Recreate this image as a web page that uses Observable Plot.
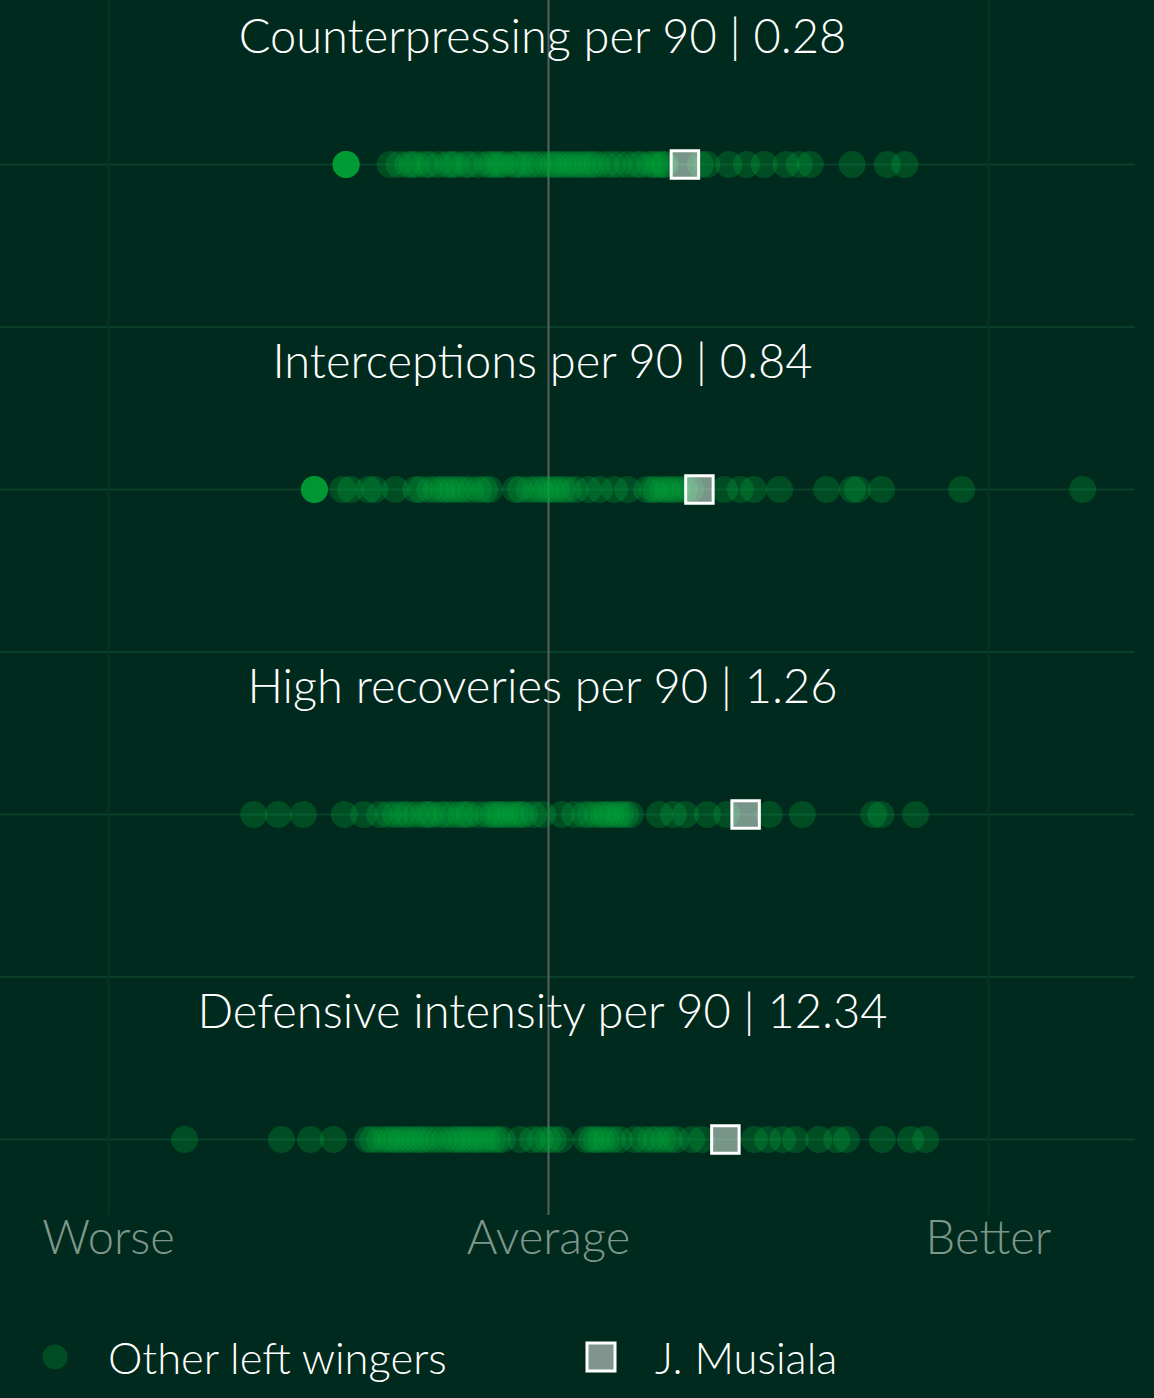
<!DOCTYPE html>
<html>
<head>
<meta charset="utf-8">
<script src="https://cdn.jsdelivr.net/npm/d3@7"></script>
<script src="https://cdn.jsdelivr.net/npm/@observablehq/plot@0.6"></script>
<style>
  html, body { margin: 0; padding: 0; background: #002a1d; }
  #chart { width: 1154px; }
  .legend { position: relative; width: 1154px; height: 98px; font-family: Lato, "Noto Sans", sans-serif; font-weight: 300; color: #fff; font-size: 43.5px; }
  .legend .sw { position: absolute; top: 57px; transform: translate(-50%, -50%); }
  .legend .lab { position: absolute; top: 58px; transform: translateY(-50%); line-height: 1; white-space: nowrap; }
</style>
</head>
<body>
<div id="chart"></div>
<div class="legend" id="legend"></div>
<script>
// Metric names and J. Musiala's raw values
const metrics = ["Counterpressing per 90", "Interceptions per 90", "High recoveries per 90", "Defensive intensity per 90"];
const musialaValues = [0.28, 0.84, 1.26, 12.34];
// Relative scores (Worse = -100, Average = 0, Better = 100)
const musialaScores = [31, 34.3, 44.8, 40.2];

const counterpressing = [-46, -46, -46, -46, -46, -46, -46, -36, -34, -32, -31, -30, -28, -27, -25, -23, -22, -21, -19, -18, -16, -14, -13, -12, -11, -10, -8, -7, -6, -4.5, -3.4, -1.8, 0, 1.1, 2, 3.2, 4.3, 5.5, 6.6, 7.7, 8.9, 10, 11, 13, 14.5, 16, 18, 20, 21, 23, 24, 25, 26, 26.5, 34.5, 36, 41, 45, 49, 54, 57, 59.5, 69, 77, 81];
const interceptions = [-53.2, -53.2, -53.2, -53.2, -53.2, -53.2, -46.8, -45, -40.9, -39.5, -34.8, -30.2, -29.1, -27, -25.5, -24.1, -23, -21.8, -20.5, -19.3, -17.7, -15.9, -14.5, -13.4, -7.5, -6.4, -4.5, -3, -1.6, -0.5, 0.7, 1.8, 3.2, 4.5, 6.1, 9.1, 11.6, 15, 18, 22.3, 23.6, 24.5, 25.9, 27, 28.2, 29.3, 30.9, 32.3, 40, 43.6, 46.6, 52.5, 63.2, 69.1, 70.2, 75.7, 93.9, 121.4];
const highRecoveries = [-67, -61.4, -55.7, -46.4, -42, -38.4, -36.4, -34.8, -33.2, -32, -30.2, -28.4, -27.3, -26.4, -24.5, -23.2, -21.6, -20, -18.9, -18, -15.9, -13.9, -12.7, -11.8, -10.9, -9.8, -8.6, -7.5, -6.4, -5.5, -3.4, -1.4, 3, 5.9, 8.2, 9.5, 11.1, 12.3, 13.2, 14.3, 15.5, 16.4, 17.5, 18.6, 25.2, 28.4, 31.1, 36.1, 40.5, 50.2, 57.7, 73.9, 75.5, 83.4];
const defensiveIntensity = [-82.7, -60.7, -54.1, -48.9, -41.1, -40, -38.4, -37, -35.9, -34.8, -33.6, -32.5, -31.4, -30.2, -29.1, -28, -26.6, -25, -23.6, -22, -20.9, -19.8, -18.6, -17.5, -16.4, -15.2, -14.1, -12.7, -11.6, -10.5, -6.4, -3.6, -1.8, -0.2, 1.1, 2.7, 8.6, 9.8, 10.9, 12, 13.2, 14.5, 16.1, 19.5, 21.4, 23.2, 24.5, 26.1, 27.5, 28.9, 32.5, 34.8, 46.8, 49.8, 53.2, 56.1, 61.4, 65.5, 67.7, 75.9, 82.3, 85.7];

const scaleTicks = [-100, 0, 100];
const scaleLabels = ["Worse", "Average", "Better"];
const gridRows = [0, 0.5, 1, 1.5, 2, 2.5, 3];

const seriesList = [counterpressing, interceptions, highRecoveries, defensiveIntensity];
const others = seriesList.flatMap((arr, row) => arr.map(score => ({row, score})));
const musiala = musialaScores.map((score, row) => ({row, score}));
const titles = metrics.map((m, row) => ({row, label: `${m} | ${musialaValues[row]}`}));

const FONT = 'Lato, "Noto Sans", sans-serif';
const dotColor = "#00a838";

const plot = Plot.plot({
  width: 1154,
  height: 1300,
  marginTop: 0,
  marginLeft: 0,
  marginRight: 19,
  marginBottom: 85,
  style: {background: "#002a1d", color: "#fff", fontFamily: FONT},
  x: {domain: [-100, 100], range: [108, 988]},
  y: {domain: [0, 3], range: [164, 1139], axis: null},
  marks: [
    Plot.ruleY(gridRows, {stroke: "#0a3f2a", strokeWidth: 2}),
    Plot.ruleX([scaleTicks[0], scaleTicks[2]], {stroke: "#063524", strokeWidth: 2}),
    Plot.ruleX([scaleTicks[1]], {stroke: "#5b605d", strokeWidth: 2}),
    Plot.dot(others, {x: "score", y: "row", r: 13.5, fill: dotColor, fillOpacity: 0.28}),
    Plot.dot(musiala, {x: "score", y: "row", symbol: "square", r: 15.5, fill: "#f0fff6", fillOpacity: 0.5, stroke: "white", strokeWidth: 3}),
    Plot.text(titles, {x: 0, y: "row", text: "label", dy: -112, dx: -6, lineAnchor: "bottom", fontSize: 47, fill: "white", fontWeight: 300}),
    Plot.axisX(scaleTicks, {anchor: "bottom", tickSize: 0, tickPadding: 5, tickFormat: (d) => scaleLabels[scaleTicks.indexOf(d)], fontSize: 47, fill: "#7d978a", fontWeight: 300, label: null})
  ]
});
document.getElementById("chart").appendChild(plot);

// Legend
const legend = document.getElementById("legend");
legend.innerHTML = `
  <svg class="sw" style="left:55px" width="26" height="26"><circle cx="13" cy="13" r="12.5" fill="${dotColor}" fill-opacity="0.28"/></svg>
  <span class="lab" style="left:108px">Other left wingers</span>
  <svg class="sw" style="left:601px" width="32" height="32"><rect x="2" y="2" width="28" height="28" fill="white" fill-opacity="0.5" stroke="white" stroke-width="3"/></svg>
  <span class="lab" style="left:655px">J. Musiala</span>
`;
</script>
</body>
</html>
